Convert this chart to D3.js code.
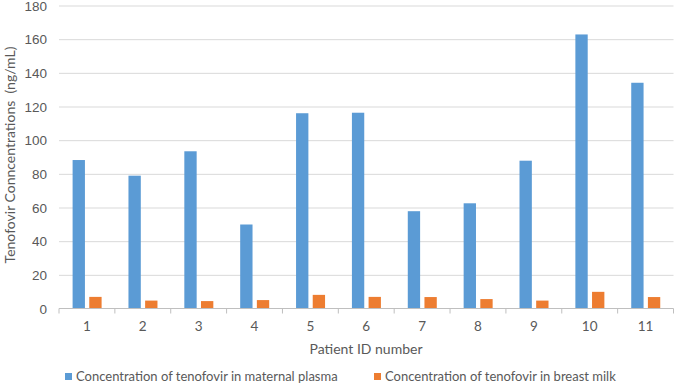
<!DOCTYPE html>
<meta charset="utf-8">
<style>
  body { margin: 0; background: #fff; }
  svg { display: block; font-family: Lato, "Open Sans", sans-serif; }
  .grid line { stroke: #d9d9d9; stroke-width: 1; }
  .grid .domain { display: none; }
  .axis text { fill: #595959; font-size: 13.5px; }
  .axis--x .domain, .axis--x .tick line { stroke: #bfbfbf; }
  .axis--y .domain, .axis--y .tick line { display: none; }
  .label { fill: #595959; font-size: 14px; white-space: pre; }
  .legend text { fill: #595959; font-size: 13px; }
</style>

<body>
  <script src="https://d3js.org/d3.v7.min.js"></script>
  <script>
    var patients = ["1", "2", "3", "4", "5", "6", "7", "8", "9", "10", "11"];
    var plasma = [88.2, 78.9, 93.4, 49.9, 116.0, 116.3, 57.8, 62.5, 87.8, 162.8, 134.1];
    var milk = [6.9, 4.7, 4.4, 5.0, 8.1, 6.9, 6.8, 5.6, 4.7, 9.9, 6.8];
    var yTicks = [0, 20, 40, 60, 80, 100, 120, 140, 160, 180];
    var seriesNames = ["Concentration of tenofovir in maternal plasma",
      "Concentration of tenofovir in breast milk"];
    var colors = ["#5b9bd5", "#ed7d31"];

    var width = 675,
      height = 384;

    var svg = d3.select("body").append("svg")
      .attr("width", width)
      .attr("height", height);

    var x0 = d3.scaleBand()
      .domain(patients)
      .range([59, 673.5]);

    var x1 = d3.scaleBand()
      .domain([0, 1])
      .range([13.6, 42.6])
      .paddingInner(0.26);

    var y = d3.scaleLinear()
      .domain([0, 180])
      .range([308.5, 5.5]);

    // gridlines
    svg.append("g")
      .attr("class", "grid")
      .attr("transform", "translate(59,0)")
      .call(d3.axisLeft(y).tickValues(yTicks.slice(1)).tickSize(-(673.5 - 59)).tickFormat(""));

    // y axis labels
    svg.append("g")
      .attr("class", "axis axis--y")
      .attr("transform", "translate(52,0)")
      .call(d3.axisLeft(y).tickValues(yTicks).tickSize(0).tickPadding(5))
      .selectAll("text")
      .attr("dy", "0.35em");

    // bars
    var series = [plasma, milk];
    svg.append("g").selectAll("g")
      .data(series)
      .enter().append("g")
      .attr("fill", function (d, i) { return colors[i]; })
      .attr("transform", function (d, i) { return "translate(" + x1(i) + ",0)"; })
      .selectAll("rect")
      .data(function (d) { return d; })
      .enter().append("rect")
      .attr("x", function (d, i) { return x0(patients[i]); })
      .attr("y", function (d) { return y(d); })
      .attr("width", x1.bandwidth())
      .attr("height", function (d) { return y(0) - y(d); });

    // x axis with tick marks between categories
    var xAxis = svg.append("g")
      .attr("class", "axis axis--x")
      .attr("transform", "translate(0," + y(0) + ")");

    xAxis.append("line")
      .attr("x1", x0.range()[0])
      .attr("x2", x0.range()[1])
      .attr("stroke", "#bfbfbf");

    xAxis.selectAll(".sep")
      .data(patients.concat(["end"]))
      .enter().append("line")
      .attr("x1", function (d, i) { return x0.range()[0] + i * x0.step(); })
      .attr("x2", function (d, i) { return x0.range()[0] + i * x0.step(); })
      .attr("y1", 0)
      .attr("y2", 5)
      .attr("stroke", "#bfbfbf");

    xAxis.selectAll(".lab")
      .data(patients)
      .enter().append("text")
      .attr("x", function (d) { return x0(d) + x0.bandwidth() / 2; })
      .attr("y", 22)
      .attr("text-anchor", "middle")
      .text(function (d) { return d; });

    // axis titles
    svg.append("text")
      .attr("class", "label")
      .attr("x", 366)
      .attr("y", 354)
      .attr("text-anchor", "middle")
      .text("Patient ID number");

    svg.append("text")
      .attr("class", "label")
      .attr("transform", "translate(15,155) rotate(-90)")
      .attr("text-anchor", "middle")
      .text("Tenofovir Conncentrations  (ng/mL)");

    // legend
    var legendX = [65, 374];
    var legend = svg.append("g")
      .attr("class", "legend")
      .selectAll("g")
      .data(seriesNames)
      .enter().append("g")
      .attr("transform", function (d, i) { return "translate(" + legendX[i] + ",373)"; });

    legend.append("rect")
      .attr("width", 7)
      .attr("height", 7)
      .attr("fill", function (d, i) { return colors[i]; });

    legend.append("text")
      .attr("x", 11)
      .attr("y", 8)
      .text(function (d) { return d; });
  </script>
</body>
